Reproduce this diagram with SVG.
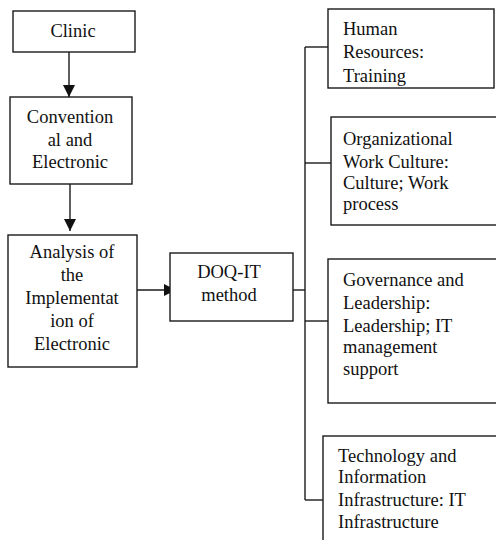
<svg xmlns="http://www.w3.org/2000/svg" width="496" height="540" viewBox="0 0 496 540">
  <defs>
    <style>
      .box { fill: #ffffff; stroke: #1a1a1a; stroke-width: 1.4; }
      .line { fill: none; stroke: #1a1a1a; stroke-width: 1.4; }
      .lbl { font-family: "Liberation Serif", "Times New Roman", serif; font-size: 18.5px; fill: #111111; }
      .c { text-anchor: middle; }
    </style>
    <marker id="arrow" viewBox="0 0 10 10" refX="10" refY="5" markerWidth="12" markerHeight="12" markerUnits="userSpaceOnUse" orient="auto">
      <path d="M0,0 L10,5 L0,10 Z" fill="#111111"/>
    </marker>
    <clipPath id="clipHR"><rect x="328" y="9" width="166" height="77"/></clipPath>
  </defs>
  <rect width="496" height="540" fill="#ffffff"/>

  <!-- arrows and the branching bus on the right -->
  <g id="connectors">
    <line class="line" x1="69" y1="52" x2="69" y2="97" marker-end="url(#arrow)"/>
    <line class="line" x1="70" y1="184" x2="70" y2="231" marker-end="url(#arrow)"/>
    <line class="line" x1="137" y1="290" x2="176" y2="290" marker-end="url(#arrow)"/>
    <line class="line" x1="293" y1="290" x2="305" y2="290"/>
    <line class="line" x1="305" y1="47" x2="305" y2="500"/>
    <line class="line" x1="305" y1="47" x2="328" y2="47"/>
    <line class="line" x1="305" y1="163" x2="331" y2="163"/>
    <line class="line" x1="305" y1="321" x2="328" y2="321"/>
    <line class="line" x1="305" y1="500" x2="323" y2="500"/>
  </g>

  <g id="clinic">
    <rect class="box" x="13" y="11" width="122" height="41"/>
    <text class="lbl c" font-family="Liberation Serif" x="73" y="37">Clinic</text>
  </g>

  <g id="conventional">
    <rect class="box" x="10" y="97" width="122" height="87"/>
    <text class="lbl c" font-family="Liberation Serif" x="70" y="123">Convention</text>
    <text class="lbl c" font-family="Liberation Serif" x="70" y="145.5">al and</text>
    <text class="lbl c" font-family="Liberation Serif" x="70" y="168">Electronic</text>
  </g>

  <g id="analysis">
    <rect class="box" x="8" y="235" width="129" height="132"/>
    <text class="lbl c" font-family="Liberation Serif" x="72" y="258">Analysis of</text>
    <text class="lbl c" font-family="Liberation Serif" x="72" y="281">the</text>
    <text class="lbl c" font-family="Liberation Serif" x="72" y="304">Implementat</text>
    <text class="lbl c" font-family="Liberation Serif" x="72" y="327">ion of</text>
    <text class="lbl c" font-family="Liberation Serif" x="72" y="350">Electronic</text>
  </g>

  <g id="doq-it">
    <rect class="box" x="170" y="253" width="123" height="68"/>
    <text class="lbl c" font-family="Liberation Serif" x="229" y="278">DOQ-IT</text>
    <text class="lbl c" font-family="Liberation Serif" x="229" y="301">method</text>
  </g>

  <g id="human-resources">
    <rect class="box" x="328" y="9" width="166" height="79"/>
    <g clip-path="url(#clipHR)">
      <text class="lbl" font-family="Liberation Serif" x="343" y="35">Human</text>
      <text class="lbl" font-family="Liberation Serif" x="343" y="58">Resources:</text>
      <text class="lbl" font-family="Liberation Serif" x="343" y="81.5">Training</text>
    </g>
  </g>

  <g id="organizational">
    <rect class="box" x="331" y="117" width="170" height="108"/>
    <text class="lbl" font-family="Liberation Serif" x="343" y="145">Organizational</text>
    <text class="lbl" font-family="Liberation Serif" x="343" y="167.5">Work Culture:</text>
    <text class="lbl" font-family="Liberation Serif" x="343" y="189">Culture; Work</text>
    <text class="lbl" font-family="Liberation Serif" x="343" y="210">process</text>
  </g>

  <g id="governance">
    <rect class="box" x="328" y="259" width="173" height="144"/>
    <text class="lbl" font-family="Liberation Serif" x="343" y="286">Governance and</text>
    <text class="lbl" font-family="Liberation Serif" x="343" y="309">Leadership:</text>
    <text class="lbl" font-family="Liberation Serif" x="343" y="331.5">Leadership; IT</text>
    <text class="lbl" font-family="Liberation Serif" x="343" y="353">management</text>
    <text class="lbl" font-family="Liberation Serif" x="343" y="375">support</text>
  </g>

  <g id="technology">
    <rect class="box" x="323" y="436" width="178" height="110"/>
    <text class="lbl" font-family="Liberation Serif" x="338" y="461.5">Technology and</text>
    <text class="lbl" font-family="Liberation Serif" x="338" y="483">Information</text>
    <text class="lbl" font-family="Liberation Serif" x="338" y="505.5">Infrastructure: IT</text>
    <text class="lbl" font-family="Liberation Serif" x="338" y="528">Infrastructure</text>
  </g>
</svg>
